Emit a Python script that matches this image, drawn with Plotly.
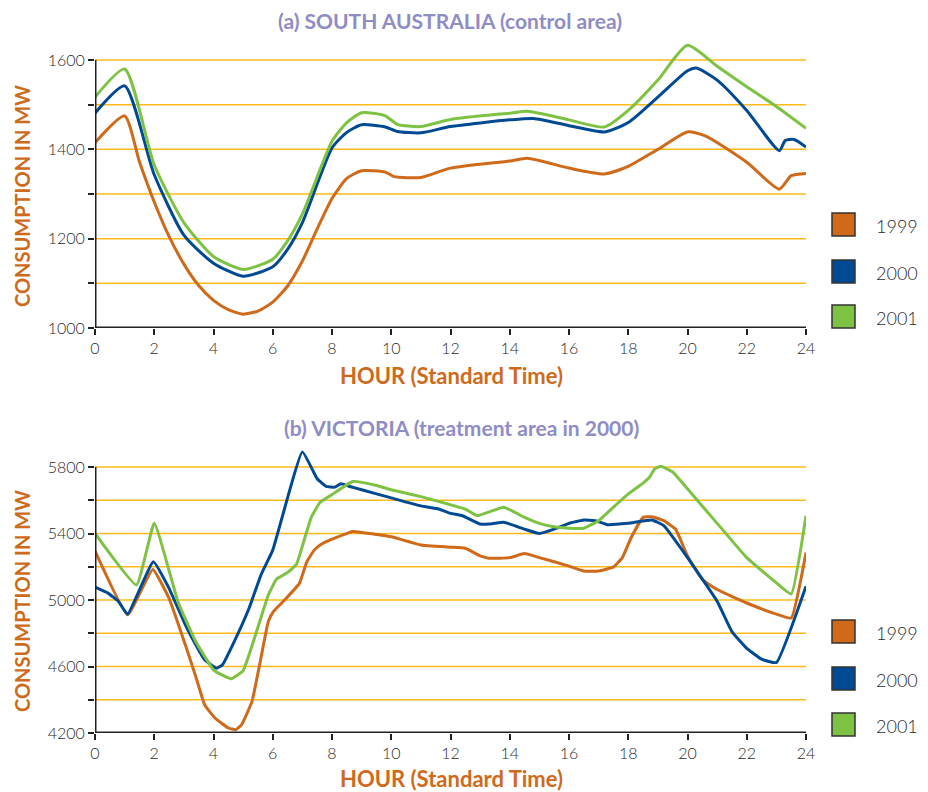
import plotly.graph_objects as go

# ---------------- South Australia (control area) ----------------
sa_1999_h = [0, 1, 1.5, 2, 2.5, 3, 3.5, 4, 4.5, 5, 5.5, 6, 6.5, 7, 7.5, 8, 8.5, 9, 9.8, 10.1, 11, 12, 14, 14.6, 16, 17.2, 18, 19, 20, 20.6, 22, 23.1, 23.5, 24]
sa_1999_v = [1415, 1475, 1372, 1282, 1205, 1143, 1095, 1062, 1041, 1031, 1038, 1058, 1094, 1150, 1222, 1290, 1335, 1352, 1349, 1339, 1337, 1358, 1374, 1380, 1358, 1345, 1362, 1400, 1439, 1430, 1371, 1311, 1341, 1346]

sa_2000_h = [0, 1, 2, 3, 4, 5, 6, 6.5, 7, 8, 8.5, 9, 9.8, 10.2, 11, 12, 14, 14.8, 16, 17.2, 18, 19, 20, 20.3, 21, 22, 23.1, 23.3, 23.6, 24]
sa_2000_v = [1481, 1542, 1343, 1208, 1145, 1116, 1137, 1176, 1236, 1403, 1438, 1455, 1450, 1440, 1437, 1451, 1466, 1469, 1453, 1439, 1460, 1517, 1576, 1582, 1555, 1487, 1397, 1420, 1422, 1405]

sa_2001_h = [0, 1, 2, 3, 4, 5, 6, 6.5, 7, 8, 8.5, 9, 9.8, 10.2, 11, 12, 14, 14.6, 16, 17.2, 18, 19, 20, 21, 22, 23, 24]
sa_2001_v = [1517, 1580, 1365, 1236, 1160, 1131, 1154, 1195, 1255, 1418, 1460, 1482, 1475, 1456, 1451, 1467, 1481, 1485, 1466, 1450, 1487, 1555, 1633, 1586, 1540, 1496, 1447]

# ---------------- Victoria (treatment area in 2000) ----------------
vic_1999_h = [0, 1.1, 1.95, 2.5, 3.05, 3.4, 3.7, 4.05, 4.5, 4.75, 4.95, 5.3, 5.6, 5.85, 6.02, 6.4, 6.9, 7.15, 7.4, 7.6, 8, 8.7, 9, 10, 11, 12, 12.5, 13, 13.3, 14, 14.5, 15, 16, 16.5, 17, 17.5, 17.8, 18.1, 18.5, 18.8, 19.2, 19.6, 20, 20.5, 21, 22, 23, 23.5, 24]
vic_1999_v = [5295, 4911, 5184, 5010, 4730, 4540, 4370, 4290, 4230, 4220, 4250, 4390, 4650, 4870, 4930, 5000, 5100, 5230, 5300, 5331, 5366, 5412, 5406, 5380, 5331, 5318, 5311, 5265, 5251, 5255, 5279, 5255, 5204, 5174, 5174, 5198, 5255, 5376, 5497, 5501, 5477, 5426, 5265, 5123, 5063, 4982, 4915, 4891, 5285]

vic_2000_h = [0, 0.45, 0.8, 1.1, 1.97, 2.5, 3.05, 3.4, 3.7, 4.1, 4.3, 4.7, 5.2, 5.6, 6, 7, 7.5, 7.8, 8.1, 8.3, 8.6, 9, 10, 11, 11.6, 12, 12.4, 13, 13.3, 13.8, 14.5, 15, 15.5, 16, 16.5, 16.9, 17.3, 18, 18.8, 19.2, 20, 21, 21.5, 22, 22.5, 23, 24]
vic_2000_v = [5077, 5040, 4990, 4914, 5230, 5070, 4850, 4730, 4640, 4590, 4610, 4750, 4950, 5150, 5300, 5891, 5729, 5683, 5679, 5699, 5683, 5663, 5614, 5566, 5547, 5521, 5507, 5457, 5457, 5467, 5426, 5400, 5426, 5461, 5481, 5477, 5453, 5461, 5481, 5447, 5255, 4992, 4810, 4709, 4644, 4624, 5083]

vic_2001_h = [0, 1.4, 2, 2.8, 3.4, 4, 4.3, 4.6, 5, 5.4, 5.85, 6.13, 6.5, 6.8, 7, 7.3, 7.6, 8, 8.7, 9.5, 10, 11, 12, 12.5, 12.9, 13.8, 14.5, 15, 15.5, 16, 16.5, 17, 17.5, 18, 18.5, 18.7, 18.9, 19.1, 19.5, 20, 21, 22, 23, 23.5, 24]
vic_2001_v = [5400, 5090, 5461, 4990, 4750, 4580, 4548, 4526, 4575, 4780, 5030, 5126, 5165, 5215, 5325, 5497, 5588, 5634, 5713, 5689, 5663, 5622, 5573, 5547, 5507, 5558, 5497, 5461, 5440, 5432, 5432, 5477, 5558, 5638, 5703, 5735, 5790, 5804, 5770, 5669, 5461, 5255, 5103, 5036, 5507]

years = ["1999", "2000", "2001"]
colors = ["#CF6A1B", "#004A93", "#7DC242"]

x_ticks = list(range(0, 25, 2))
sa_ticks = [1000, 1100, 1200, 1300, 1400, 1500, 1600]
sa_ticktext = ["1000", "", "1200", "", "1400", "", "1600"]
vic_ticks = [4200, 4400, 4600, 4800, 5000, 5200, 5400, 5600, 5800]
vic_ticktext = ["4200", "", "4600", "", "5000", "", "5400", "", "5800"]

titles = ["(a) SOUTH AUSTRALIA (control area)", "(b) VICTORIA (treatment area in 2000)"]
y_title = "CONSUMPTION IN MW"
x_title = "HOUR (Standard Time)"

W, H = 928, 792
def px(x): return x / W
def py(y): return 1 - y / H

GRID = "#FDBB1A"
ORANGE_TXT = "#CF6A1B"
TITLE_TXT = "#8F8CC6"
TICK_TXT = "#2A2A2A"
FONT = "Lato"
TICKFONT = dict(family=FONT, size=16, color=TICK_TXT, weight=300)

fig = go.Figure()

sa_series = [(sa_1999_h, sa_1999_v), (sa_2000_h, sa_2000_v), (sa_2001_h, sa_2001_v)]
vic_series = [(vic_1999_h, vic_1999_v), (vic_2000_h, vic_2000_v), (vic_2001_h, vic_2001_v)]

for (h, v), c, yr in zip(sa_series, colors, years):
    fig.add_trace(go.Scatter(x=h, y=v, mode="lines", name=yr, xaxis="x", yaxis="y",
                             line=dict(color=c, width=3, shape="spline", smoothing=0.6),
                             showlegend=False))
for (h, v), c, yr in zip(vic_series, colors, years):
    fig.add_trace(go.Scatter(x=h, y=v, mode="lines", name=yr, xaxis="x2", yaxis="y2",
                             line=dict(color=c, width=3, shape="spline", smoothing=0.35),
                             showlegend=False))

xdom = [px(95), px(806)]
sa_range = [1000, 1640]
vic_range = [4200, 5920]
sa_dom = [py(328), py(328 - 640 * 268 / 600)]
vic_dom = [py(733), py(733 - 1720 * 266 / 1600)]

common_x = dict(range=[0, 24], domain=xdom, tickvals=x_ticks, showline=False, showgrid=False,
                zeroline=False, ticks="outside", ticklen=6, tickwidth=2, tickcolor="#222",
                automargin=False, tickfont=TICKFONT)
common_y = dict(showgrid=False, zeroline=False, showline=False, ticks="outside", ticklen=6,
                tickwidth=2, tickcolor="#222", automargin=False, tickfont=TICKFONT)
fig.update_layout(
    xaxis=dict(anchor="y", **common_x),
    xaxis2=dict(anchor="y2", **common_x),
    yaxis=dict(range=sa_range, domain=sa_dom, anchor="x", tickvals=sa_ticks, ticktext=sa_ticktext, **common_y),
    yaxis2=dict(range=vic_range, domain=vic_dom, anchor="x2", tickvals=vic_ticks, ticktext=vic_ticktext, **common_y),
)

shapes = []
for t in sa_ticks[1:]:
    shapes.append(dict(type="line", xref="x", yref="y", x0=0, x1=24, y0=t, y1=t,
                       line=dict(color=GRID, width=1.5), layer="below"))
for t in vic_ticks[1:]:
    shapes.append(dict(type="line", xref="x2", yref="y2", x0=0, x1=24, y0=t, y1=t,
                       line=dict(color=GRID, width=1.5), layer="below"))
for xr, yr, ymin, ymax in [("x", "y", 1000, 1600), ("x2", "y2", 4200, 5800)]:
    shapes.append(dict(type="line", xref=xr, yref=yr, x0=0, x1=0, y0=ymin, y1=ymax,
                       line=dict(color="#222", width=3)))
    shapes.append(dict(type="line", xref=xr, yref=yr, x0=0, x1=24, y0=ymin, y1=ymin,
                       line=dict(color="#222", width=3)))

annotations = []
legend_tops = [[213, 260, 305], [620, 667, 713]]
for tops in legend_tops:
    for top, c, yr in zip(tops, colors, years):
        shapes.append(dict(type="rect", xref="paper", yref="paper",
                           x0=px(832), x1=px(855), y0=py(top + 23), y1=py(top),
                           fillcolor=c, line=dict(color="#333", width=1.5)))
        annotations.append(dict(x=px(874), y=py(top + 13), xref="paper", yref="paper",
                                text=yr, showarrow=False, xanchor="left", yanchor="middle",
                                font=dict(family=FONT, size=18, color="#2A2A2A", weight=300)))

annotations.append(dict(x=px(450), y=py(21), xref="paper", yref="paper", text="<b>" + titles[0] + "</b>",
                        showarrow=False, xanchor="center", yanchor="middle",
                        font=dict(family=FONT, size=21, color=TITLE_TXT)))
annotations.append(dict(x=px(461), y=py(427), xref="paper", yref="paper", text="<b>" + titles[1] + "</b>",
                        showarrow=False, xanchor="center", yanchor="middle",
                        font=dict(family=FONT, size=21, color=TITLE_TXT)))
for yc in [196, 601]:
    annotations.append(dict(x=px(22), y=py(yc), xref="paper", yref="paper", text="<b>" + y_title + "</b>",
                            showarrow=False, textangle=-90, xanchor="center", yanchor="middle",
                            font=dict(family=FONT, size=20, color=ORANGE_TXT)))
for yc in [375, 778]:
    annotations.append(dict(x=px(451), y=py(yc), xref="paper", yref="paper", text="<b>" + x_title + "</b>",
                            showarrow=False, xanchor="center", yanchor="middle",
                            font=dict(family=FONT, size=22, color=ORANGE_TXT)))

fig.update_layout(shapes=shapes, annotations=annotations, width=W, height=H,
                  margin=dict(l=0, r=0, t=0, b=0), paper_bgcolor="white", plot_bgcolor="white",
                  showlegend=False)

fig.write_html("out.html", config={"displayModeBar": False},
               post_script="document.body.style.margin='0';")
